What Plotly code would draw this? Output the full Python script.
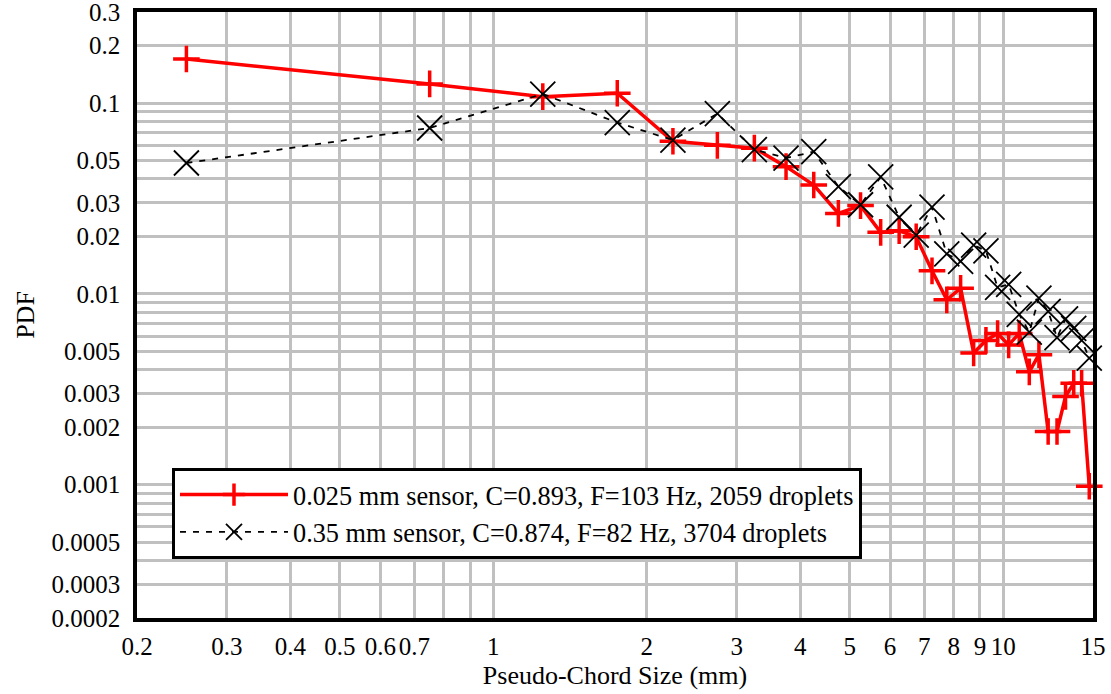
import math
import plotly.graph_objects as go

# Pseudo-chord size bins (mm), bin centres
chord_size_mm = [0.25, 0.75, 1.25, 1.75, 2.25, 2.75, 3.25, 3.75, 4.25, 4.75,
                 5.25, 5.75, 6.25, 6.75, 7.25, 7.75, 8.25, 8.75, 9.25, 9.75,
                 10.25, 10.75, 11.25, 11.75, 12.25, 12.75, 13.25, 13.75, 14.25, 14.75]

# PDF for the 0.025 mm sensor
pdf_sensor_025 = [0.17, 0.126, 0.108, 0.1125, 0.063, 0.060, 0.058, 0.0464, 0.0372, 0.0264,
                  0.029, 0.021, 0.0214, 0.0199, 0.0132, 0.0093, 0.0107, 0.0049, 0.0057, 0.0062,
                  0.0054, 0.0062, 0.0039, 0.0048, 0.0019, 0.0019, 0.0029, 0.0034, 0.0034, 0.00098]

# PDF for the 0.35 mm sensor
pdf_sensor_035 = [0.0485, 0.074, 0.1115, 0.079, 0.064, 0.088, 0.057, 0.0515, 0.0556, 0.0365,
                  0.0293, 0.041, 0.0252, 0.0203, 0.0285, 0.0162, 0.0148, 0.018, 0.0168, 0.0108,
                  0.0112, 0.0078, 0.0063, 0.0095, 0.0081, 0.0059, 0.0074, 0.0066, 0.0057, 0.0046]

series_names = ["0.025 mm sensor, C=0.893, F=103 Hz, 2059 droplets",
                "0.35 mm sensor, C=0.874, F=82 Hz, 3704 droplets"]

# Log-axis grid positions and their labels ("" = grid line only)
x_tick_values = [0.2, 0.3, 0.4, 0.5, 0.6, 0.7, 0.8, 0.9, 1, 2, 3, 4, 5, 6, 7, 8, 9, 10, 15]
x_tick_labels = ["0.2", "0.3", "0.4", "0.5", "0.6", "0.7", "", "", "1", "2", "3", "4",
                 "5", "6", "7", "8", "9", "10", "15"]

y_tick_values = [0.0002, 0.0003, 0.0004, 0.0005, 0.0006, 0.0007, 0.0008, 0.0009,
                 0.001, 0.002, 0.003, 0.004, 0.005, 0.006, 0.007, 0.008, 0.009,
                 0.01, 0.02, 0.03, 0.04, 0.05, 0.06, 0.07, 0.08, 0.09,
                 0.1, 0.2, 0.3]
y_tick_labels = ["0.0002", "0.0003", "", "0.0005", "", "", "", "",
                 "0.001", "0.002", "0.003", "", "0.005", "", "", "", "",
                 "0.01", "0.02", "0.03", "", "0.05", "", "", "", "",
                 "0.1", "0.2", "0.3"]

FONT = "Liberation Serif"
GRID = "#c0c0c0"

# small padding so the end ticks (0.2 / 15 and 0.0002 / 0.3) stay inside the range
EPS = 1e-5

fig = go.Figure()

fig.add_trace(go.Scatter(
    x=chord_size_mm, y=pdf_sensor_025, name=series_names[0],
    mode="lines+markers", cliponaxis=False,
    line=dict(color="#ff0000", width=3.5),
    marker=dict(symbol="cross-thin", size=19, color="#ff0000",
                line=dict(color="#ff0000", width=3.5)),
))

fig.add_trace(go.Scatter(
    x=chord_size_mm, y=pdf_sensor_035, name=series_names[1],
    mode="lines+markers", cliponaxis=False,
    line=dict(color="black", width=1.8, dash="6px,7px"),
    marker=dict(symbol="x-thin", size=25, color="black",
                line=dict(color="black", width=1.8)),
))

fig.update_layout(
    width=1111, height=694,
    margin=dict(l=137, r=18, t=12, b=76, autoexpand=False),
    paper_bgcolor="white", plot_bgcolor="white",
    font=dict(family=FONT, size=25, color="black"),
    showlegend=True,
    legend=dict(
        x=0.0366, y=0.2475, xanchor="left", yanchor="top",
        bgcolor="white", bordercolor="black", borderwidth=3,
        font=dict(family=FONT, size=26.3, color="black"),
        itemwidth=108, tracegroupgap=0,
    ),
    xaxis=dict(
        type="log", range=[math.log10(0.2) - EPS, math.log10(15) + EPS],
        tickmode="array", tickvals=x_tick_values, ticktext=x_tick_labels,
        showgrid=True, gridcolor=GRID, gridwidth=2.5,
        showline=True, linecolor="black", linewidth=3.5, mirror=True,
        ticks="", ticklabelstandoff=3, automargin=False, ticklabeloverflow="allow",
        tickfont=dict(family=FONT, size=25),
        title=dict(text="Pseudo-Chord Size (mm)", font=dict(family=FONT, size=26), standoff=8),
    ),
    yaxis=dict(
        type="log", range=[math.log10(0.0002) - EPS, math.log10(0.3) + EPS],
        tickmode="array", tickvals=y_tick_values, ticktext=y_tick_labels,
        showgrid=True, gridcolor=GRID, gridwidth=2.5,
        showline=True, linecolor="black", linewidth=3.5, mirror=True,
        ticks="", ticklabelstandoff=8, automargin=False, ticklabeloverflow="allow",
        tickfont=dict(family=FONT, size=25),
        title=dict(text="PDF", font=dict(family=FONT, size=26), standoff=10),
    ),
)

fig.write_html("out.html")
